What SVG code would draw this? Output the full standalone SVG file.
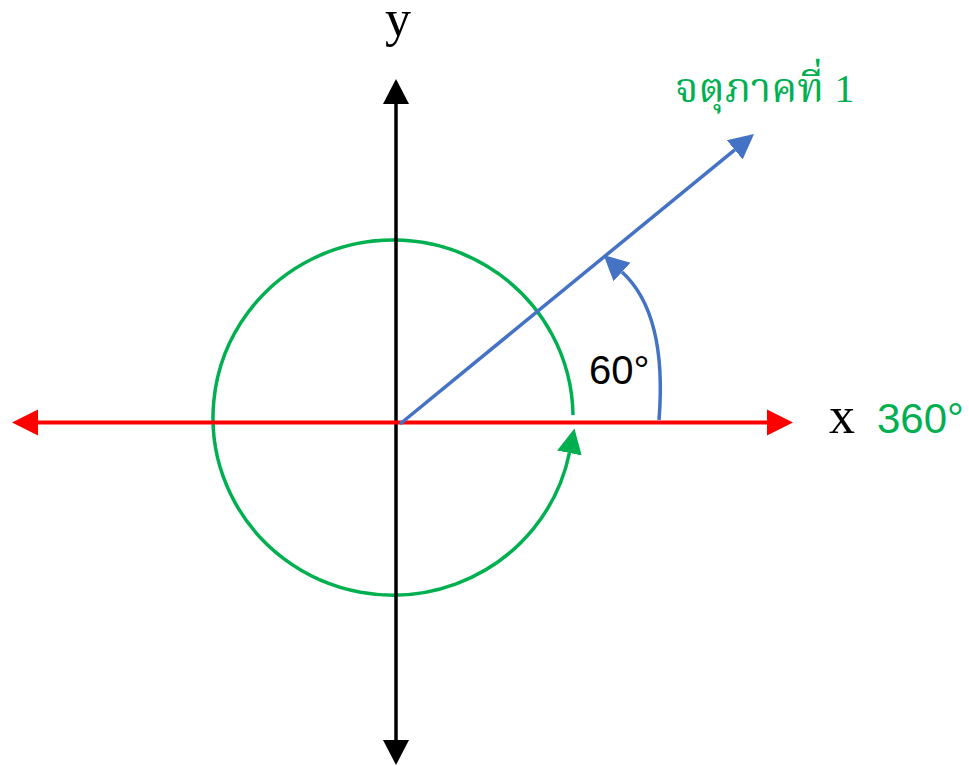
<svg xmlns="http://www.w3.org/2000/svg" width="969" height="766" viewBox="0 0 969 766">
<style>
.serif{font-family:"Liberation Serif","Times New Roman",serif;fill:#000}
.sans{font-family:"Liberation Sans",Arial,sans-serif}
.thai{font-family:"Noto Serif Thai","Noto Sans Thai","Liberation Serif",serif;fill:#00B050}
</style>
<defs>
<marker id="aRed" markerUnits="userSpaceOnUse" markerWidth="26" markerHeight="28" refX="0" refY="14" orient="auto-start-reverse"><path d="M0,1 L26,14 L0,27 z" fill="#FF0000"/></marker>
<marker id="aBlack" markerUnits="userSpaceOnUse" markerWidth="26" markerHeight="28" refX="0" refY="14" orient="auto-start-reverse"><path d="M0,1 L25,14 L0,27 z" fill="#000"/></marker>
<marker id="aBlue" markerUnits="userSpaceOnUse" markerWidth="26" markerHeight="28" refX="0" refY="14" orient="auto"><path d="M0,1.5 L25,14 L0,26.5 z" fill="#4472C4"/></marker>
<marker id="aGreen" markerUnits="userSpaceOnUse" markerWidth="26" markerHeight="28" refX="0" refY="14" orient="auto"><path d="M0,1.5 L25,14 L0,26.5 z" fill="#00B050"/></marker>
</defs>
<g id="connectors" fill="none">
<path id="circle" d="M573 415 A180 177.5 0 1 0 569.4 453" stroke="#00B050" stroke-width="3.5" marker-end="url(#aGreen)"/>
<line id="y-axis" x1="396" y1="104" x2="396" y2="740" stroke="#000" stroke-width="3.5" marker-start="url(#aBlack)" marker-end="url(#aBlack)"/>
<line id="x-axis" x1="38" y1="422.5" x2="767" y2="422.5" stroke="#FF0000" stroke-width="4" marker-start="url(#aRed)" marker-end="url(#aRed)"/>
<line id="ray" x1="400" y1="424" x2="734.7" y2="149.8" stroke="#4472C4" stroke-width="3.5" marker-end="url(#aBlue)"/>
<path id="angle" d="M659 420 Q667.5 313.8 622 272" stroke="#4472C4" stroke-width="3.5" marker-end="url(#aBlue)"/>
</g>
<g id="label-y"><text class="serif" x="398" y="36" font-size="52" text-anchor="middle">y</text></g>
<g id="label-x"><text class="serif" x="829" y="433" font-size="52">x</text></g>
<g id="label-360"><text class="sans" x="877" y="433" font-size="42" fill="#00B050">360°</text></g>
<g id="label-60"><text class="sans" x="589" y="384" font-size="40" fill="#000">60°</text></g>
<g id="label-q1"><text class="thai" x="675" y="102" font-size="41">จตุภาคที่ <tspan font-family="Liberation Serif, serif" font-size="40">1</tspan></text></g>
</svg>
